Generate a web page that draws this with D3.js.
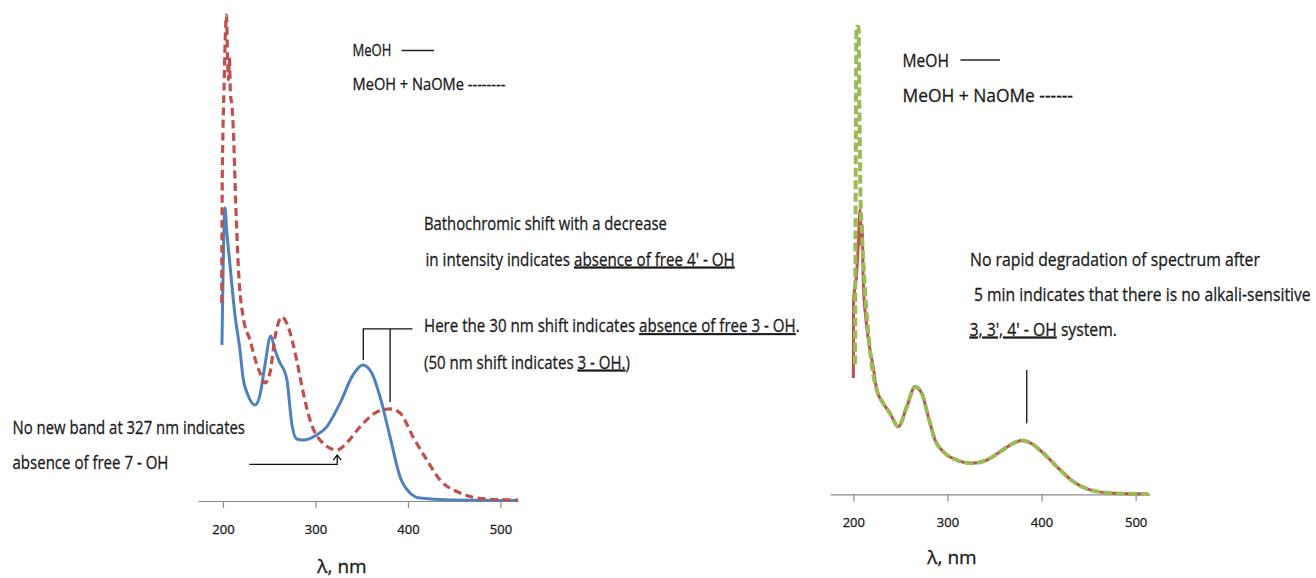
<!DOCTYPE html>
<html>
<head>
<meta charset="utf-8">
<script src="https://cdn.jsdelivr.net/npm/d3@7/dist/d3.min.js"></script>
<style>
  html, body { margin: 0; padding: 0; background: #fff; }
  svg { display: block; }
  text { font-family: "Open Sans", "Noto Sans", sans-serif; fill: #1a1a1a; stroke: #1a1a1a; stroke-width: 0.3px; }
</style>
</head>
<body>
<svg id="chart" width="1316" height="578"></svg>
<script>
// ---- Left panel: MeOH vs MeOH + NaOMe (wavelength nm, absorbance) ----
const leftMeOH_nm  = [198.9, 202.2, 204.0, 207.6, 213.0, 218.4, 221.6, 227.0, 234.6, 240.0, 245.4, 251.6, 256.3, 261.7, 266.0, 269.2, 274.3, 279.7, 286.5, 301.3, 312.2, 326.6, 340.6, 351.1, 360.9, 369.9, 380.7, 391.5, 402.3, 413.1, 448.8, 519.0];
const leftMeOH_abs = [0.642, 1.206, 1.115, 0.971, 0.765, 0.621, 0.510, 0.436, 0.395, 0.436, 0.560, 0.679, 0.621, 0.568, 0.539, 0.498, 0.321, 0.255, 0.251, 0.272, 0.305, 0.403, 0.519, 0.560, 0.527, 0.428, 0.263, 0.099, 0.033, 0.012, 0.004, 0.002];

const leftNaOMe_nm  = [198.6, 199.1, 200.0, 201.1, 202.4, 203.8, 204.9, 206.0, 207.0, 208.1, 209.7, 211.1, 213.7, 216.6, 222.0, 229.2, 235.7, 240.0, 245.4, 250.8, 256.3, 263.5, 270.6, 279.7, 286.9, 294.1, 304.9, 323.0, 333.8, 348.2, 366.3, 380.7, 391.5, 405.6, 420.4, 434.8, 456.4, 485.3, 519.2];
const leftNaOMe_abs = [0.815, 1.239, 1.527, 1.691, 1.897, 2.000, 1.835, 1.733, 1.823, 1.671, 1.630, 1.539, 1.239, 0.963, 0.753, 0.663, 0.572, 0.527, 0.486, 0.527, 0.675, 0.757, 0.716, 0.580, 0.444, 0.333, 0.251, 0.210, 0.239, 0.305, 0.366, 0.379, 0.362, 0.263, 0.169, 0.086, 0.033, 0.008, 0.004];

// ---- Right panel: MeOH vs MeOH + NaOMe after 5 min ----
const rightMeOH_nm  = [200.0, 200.3, 203.6, 205.0, 207.1, 208.2, 209.2, 210.6, 213.5, 217.8, 221.3, 224.9, 231.9, 239.0, 247.8, 256.8, 265.6, 272.7, 279.7, 286.9, 295.7, 309.9, 325.9, 341.8, 356.0, 370.1, 379.0, 387.9, 402.0, 416.2, 433.9, 451.6, 476.4, 513.6];
const rightMeOH_abs = [0.479, 0.800, 0.911, 1.006, 1.170, 1.026, 1.108, 0.870, 0.717, 0.594, 0.520, 0.430, 0.374, 0.333, 0.278, 0.360, 0.443, 0.416, 0.319, 0.223, 0.175, 0.141, 0.128, 0.141, 0.175, 0.210, 0.221, 0.212, 0.169, 0.114, 0.052, 0.018, 0.004, 0.001];

const rightNaOMe_nm  = [201.8, 202.3, 203.4, 205.5, 206.6, 207.7, 209.2, 212.4, 219.6, 224.9, 231.9, 239.0, 247.8, 256.8, 265.6, 272.7, 279.7, 286.9, 295.7, 309.9, 325.9, 341.8, 356.0, 370.1, 379.0, 387.9, 402.0, 416.2, 433.9, 451.6, 476.4, 513.6];
const rightNaOMe_abs = [0.535, 1.070, 1.924, 1.924, 1.540, 1.211, 1.067, 0.841, 0.532, 0.430, 0.374, 0.333, 0.278, 0.360, 0.443, 0.416, 0.319, 0.223, 0.175, 0.141, 0.128, 0.141, 0.175, 0.210, 0.221, 0.212, 0.169, 0.114, 0.052, 0.018, 0.004, 0.001];

// axis tick labels (nm)
const xTicks = [200, 300, 400, 500];
const xTitle = "λ, nm";

// band positions referred to by the annotations (nm)
const leftBandMeOH = 351.7;
const leftBandNaOMe = 380.7;
const leftNewBandCheck = 323.5;
const rightBand = 384.3;

const colors = { blue: "#4F81BD", red: "#C0504D", green: "#9BBB59", axis: "#8c8c8c", note: "#111" };

const svg = d3.select("#chart");

function zip(xs, ys) { return xs.map((x, i) => [x, ys[i]]); }

function panel(cfg) {
  const g = svg.append("g");
  const x = d3.scaleLinear().domain(cfg.xDomain).range(cfg.xRange);
  const y = d3.scaleLinear().domain([0, 2]).range(cfg.yRange);

  // x axis
  const axis = d3.axisBottom(x).tickValues(xTicks).tickSizeInner(7).tickSizeOuter(0)
    .tickPadding(cfg.tickPad).tickFormat(d3.format("d"));
  const ax = g.append("g").attr("transform", `translate(0,${cfg.yRange[0]})`).call(axis);
  ax.select(".domain").attr("stroke", colors.axis).attr("stroke-width", 1.2);
  ax.selectAll(".tick line").attr("stroke", colors.axis).attr("stroke-width", 1.2);
  ax.selectAll(".tick text").attr("font-family", "Open Sans, sans-serif").attr("font-size", 13).attr("fill", "#222");

  g.append("text")
    .attr("x", cfg.titleX).attr("y", cfg.titleY)
    .attr("text-anchor", "middle")
    .attr("font-size", 19)
    .text(xTitle);

  const line = d3.line().x(d => x(d[0])).y(d => y(d[1])).curve(d3.curveMonotoneX);
  cfg.series.forEach(s => {
    g.append("path")
      .datum(zip(s.nm, s.abs))
      .attr("d", line)
      .attr("fill", "none")
      .attr("stroke", s.color)
      .attr("stroke-width", s.width)
      .attr("stroke-dasharray", s.dash || null)
      .attr("stroke-linejoin", "round");
  });
  return { g, x, y };
}

const L = panel({
  xDomain: [173, 519], xRange: [198, 518], yRange: [501, 15],
  titleX: 342, titleY: 573, tickPad: 17,
  series: [
    { nm: leftMeOH_nm, abs: leftMeOH_abs, color: colors.blue, width: 3 },
    { nm: leftNaOMe_nm, abs: leftNaOMe_abs, color: colors.red, width: 3.2, dash: "8,4.5" }
  ]
});

const R = panel({
  xDomain: [175.2, 515.3], xRange: [830, 1150], yRange: [494.3, 8.3],
  titleX: 952, titleY: 564, tickPad: 16,
  series: [
    { nm: rightMeOH_nm, abs: rightMeOH_abs, color: colors.red, width: 3 },
    { nm: rightNaOMe_nm, abs: rightNaOMe_abs, color: colors.green, width: 4, dash: "9,3.5" }
  ]
});

// text helper: narrow lettering squeezed horizontally to a given width,
// with optional underlined parts
function label(x, y, parts, width, size) {
  const g = svg.append("g");
  const t = g.append("text").attr("x", 0).attr("y", 0).attr("font-size", size)
    .attr("xml:space", "preserve");
  parts.forEach(p => {
    const ts = t.append("tspan").text(p.t);
    if (p.u) ts.attr("text-decoration", "underline");
  });
  const natural = t.node().getComputedTextLength();
  const sx = natural > 0 ? width / natural : 1;
  g.attr("transform", `translate(${x},${y}) scale(${sx},1)`);
  return g;
}

// legends
label(352.5, 56, [{ t: "MeOH" }], 39, 16);
svg.append("line").attr("x1", 401.5).attr("x2", 434).attr("y1", 50.5).attr("y2", 50.5).attr("stroke", "#222").attr("stroke-width", 1.3);
label(352.5, 89.5, [{ t: "MeOH + NaOMe --------" }], 153, 16);

label(902.5, 66.5, [{ t: "MeOH" }], 46.5, 19);
svg.append("line").attr("x1", 960.5).attr("x2", 1000).attr("y1", 60).attr("y2", 60).attr("stroke", "#222").attr("stroke-width", 1.4);
label(902.5, 102, [{ t: "MeOH + NaOMe ------" }], 170.5, 19);

// left annotations
label(424, 229.5, [{ t: "Bathochromic shift with a decrease" }], 243, 19);
label(425.5, 265.5, [{ t: "in intensity indicates " }, { t: "absence of free 4' - OH", u: true }], 309.5, 19);
label(424, 332, [{ t: "Here the 30 nm shift indicates " }, { t: "absence of free 3 - OH", u: true }, { t: "." }], 376, 19);
label(424, 368.5, [{ t: "(50 nm shift indicates " }, { t: "3 - OH.", u: true }, { t: ")" }], 206, 19);
label(12.5, 433.5, [{ t: "No new band at 327 nm indicates" }], 232.5, 19);
label(12.5, 468.5, [{ t: "absence of free 7 - OH" }], 156, 19);

// right annotations
label(970, 265.5, [{ t: "No rapid degradation of spectrum after" }], 290, 19);
label(974, 300.5, [{ t: "5 min indicates that there is no alkali-sensitive" }], 337, 19);
label(969.5, 335.5, [{ t: "3, 3', 4' - OH", u: true }, { t: " system." }], 147.5, 19);

// pointer lines
const note = (g) => g.attr("stroke", colors.note).attr("stroke-width", 1.3).attr("fill", "none");
const bracketA = 0.708;
note(svg.append("path").attr("d", d3.line()([
  [L.x(leftBandMeOH), L.y(0.580)], [L.x(leftBandMeOH), L.y(bracketA)], [L.x(404.9), L.y(bracketA)]
])));
note(svg.append("path").attr("d", d3.line()([
  [L.x(leftBandNaOMe), L.y(bracketA)], [L.x(leftBandNaOMe), L.y(0.407)]
])));

// arrow to the 327 nm region
const arrowA = 0.151, tipA = 0.189;
note(svg.append("path").attr("d", d3.line()([
  [L.x(228.5), L.y(arrowA)], [L.x(leftNewBandCheck), L.y(arrowA)], [L.x(leftNewBandCheck), L.y(tipA)]
])));
note(svg.append("path").attr("d", d3.line()([
  [L.x(leftNewBandCheck) - 4, L.y(tipA) + 5], [L.x(leftNewBandCheck), L.y(tipA)], [L.x(leftNewBandCheck) + 4, L.y(tipA) + 5]
])));

// marker over the right band
note(svg.append("path").attr("d", d3.line()([
  [R.x(rightBand), R.y(0.512)], [R.x(rightBand), R.y(0.292)]
])));
</script>
</body>
</html>
